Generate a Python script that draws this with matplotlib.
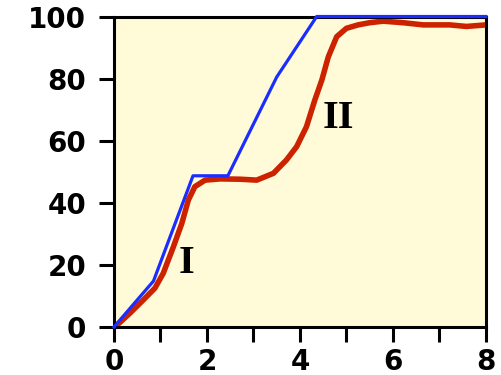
import matplotlib.pyplot as plt

# blue piecewise line
blue_x = [0, 0.85, 1.7, 2.45, 3.5, 4.36, 8]
blue_y = [0, 14.8, 48.7, 48.7, 80.5, 100, 100]

# red measured curve
red_x = [0.02, 0.34, 0.63, 0.88, 1.06, 1.28, 1.46, 1.6, 1.74, 1.96, 2.28,
         2.71, 3.07, 3.43, 3.71, 3.93, 4.14, 4.32, 4.47, 4.61, 4.79, 5.0,
         5.25, 5.5, 5.79, 6.22, 6.65, 7.22, 7.58, 8.0]
red_y = [0, 4.4, 8.7, 12.5, 17.3, 25.9, 33.4, 40.9, 45.2, 47.3, 47.7,
         47.6, 47.3, 49.5, 53.8, 58.1, 64.5, 73.1, 79.5, 87, 93.5, 96.2,
         97.3, 98.0, 98.5, 98, 97.3, 97.3, 96.8, 97.3]

xticks = [0, 2, 4, 6, 8]
yticks = [0, 20, 40, 60, 80, 100]

fig = plt.figure(figsize=(5.02, 3.75), dpi=100)
ax = fig.add_axes([0.227, 0.128, 0.741, 0.828])
ax.set_facecolor('#fffbd8')

ax.plot(red_x, red_y, color='#cc2200', lw=4, solid_capstyle='round',
        solid_joinstyle='round', zorder=2)
ax.plot(blue_x, blue_y, color='#1a2cff', lw=2.3, zorder=3, clip_on=False)

ax.text(1.55, 20.5, 'I', family='Liberation Serif', fontweight='bold', fontsize=29,
        ha='center', va='center')
ax.text(4.82, 67, 'II', family='Liberation Serif', fontweight='bold', fontsize=29,
        ha='center', va='center')

ax.set_xlim(0, 8)
ax.set_ylim(0, 100)
ax.set_xticks(xticks)
ax.set_xticks(range(0, 9), minor=True)
ax.set_yticks(yticks)
for s in ax.spines.values():
    s.set_linewidth(2.2)
ax.tick_params(which='both', direction='out', length=11, width=2.2, pad=4)
ax.tick_params(axis='y', pad=9)
for lab in ax.get_xticklabels() + ax.get_yticklabels():
    lab.set_fontsize(20)
    lab.set_fontweight('bold')

fig.savefig('out.png', dpi=100)
